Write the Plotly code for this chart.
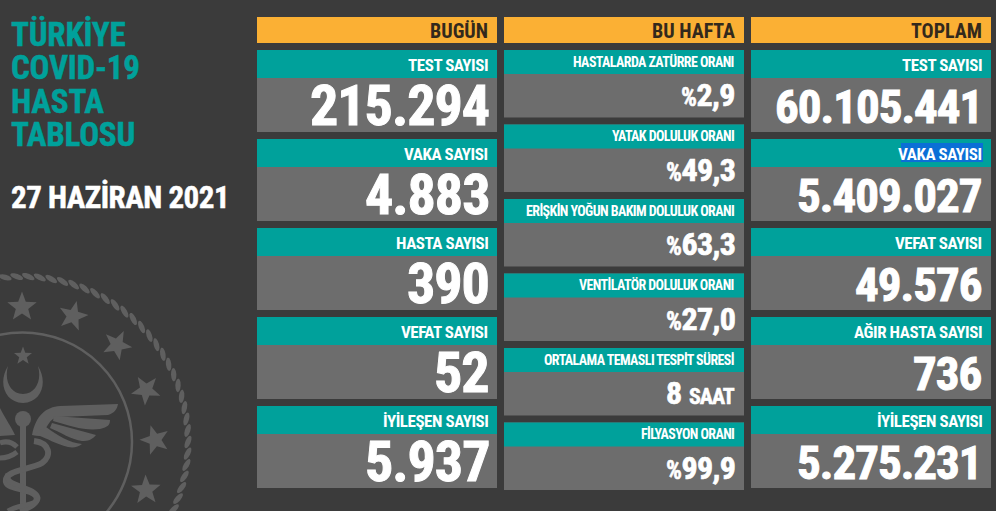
import math

import plotly.graph_objects as go

BG = "#3b3b3b"
ORANGE = "#fbb034"
TEAL = "#00a19b"
GRAY = "#6d6d6d"
SEAL = "#5f5f5f"
FONT = "Roboto Condensed"

TITLE_LINES = ["TÜRKİYE", "COVID-19", "HASTA", "TABLOSU"]
DATE_TEXT = "27 HAZİRAN 2021"

COLUMN_HEADS = ["BUGÜN", "BU HAFTA", "TOPLAM"]

TODAY_LABELS = ["TEST SAYISI", "VAKA SAYISI", "HASTA SAYISI", "VEFAT SAYISI", "İYİLEŞEN SAYISI"]
TODAY_VALUES = ["215.294", "4.883", "390", "52", "5.937"]

WEEK_LABELS = [
    "HASTALARDA ZATÜRRE ORANI",
    "YATAK DOLULUK ORANI",
    "ERİŞKİN YOĞUN BAKIM DOLULUK ORANI",
    "VENTİLATÖR DOLULUK ORANI",
    "ORTALAMA TEMASLI TESPİT SÜRESİ",
    "FİLYASYON ORANI",
]
WEEK_VALUES = ["2,9", "49,3", "63,3", "27,0", "8", "99,9"]
WEEK_PREFIX = ["%", "%", "%", "%", "", "%"]
WEEK_SUFFIX = ["", "", "", "", "SAAT", ""]

TOTAL_LABELS = ["TEST SAYISI", "VAKA SAYISI", "VEFAT SAYISI", "AĞIR HASTA SAYISI", "İYİLEŞEN SAYISI"]
TOTAL_VALUES = ["60.105.441", "5.409.027", "49.576", "736", "5.275.231"]

COL_LEFT = [257, 504, 751]
COL_WIDTH = 240
WIDE_TOPS = [50, 139, 228, 317, 406]
WEEK_TOPS = [50, 124.5, 199, 273.5, 348, 422.5]


def tight(s, spacing, stroke=0.0, color="#fff", size=None):
    style = f"letter-spacing:{spacing}px;"
    if stroke:
        style += f"stroke:{color};stroke-width:{stroke}px;"
    if size:
        style += f"font-size:{size}px;"
    return f'<span style="{style}">{s}</span>'


def text(x, y, s, size, color="white", anchor="right"):
    return dict(
        x=x, y=y, text=s, showarrow=False, xanchor=anchor, yanchor="middle",
        font=dict(family=FONT, size=size, color=color, weight=700),
        borderpad=0,
    )


def rect(x0, y0, x1, y1, color):
    return dict(type="rect", x0=x0, y0=y0, x1=x1, y1=y1, fillcolor=color, line_width=0, layer="below")


def star_path(cx, cy, r, turn=0.0):
    pts = []
    for i in range(10):
        rad = r if i % 2 == 0 else r * 0.42
        a = math.radians(-90 + i * 36 + turn)
        pts.append(f"{cx + rad * math.cos(a):.1f},{cy + rad * math.sin(a):.1f}")
    return "M" + "L".join(pts) + "Z"


def rope_path(cx, cy, r, count):
    # Small tilted ovals laid around the seal's edge
    parts = []
    for k in range(count):
        a = 2 * math.pi * k / count
        mx, my = cx + r * math.cos(a), cy + r * math.sin(a)
        tilt = a + math.pi / 2 + math.radians(22)
        pts = []
        for j in range(12):
            t = 2 * math.pi * j / 12
            u, v = 6.8 * math.cos(t), 2.7 * math.sin(t)
            pts.append(f"{mx + u * math.cos(tilt) - v * math.sin(tilt):.1f},{my + u * math.sin(tilt) + v * math.cos(tilt):.1f}")
        parts.append("M" + "L".join(pts) + "Z")
    return "".join(parts)


def seal_shapes():
    cx, cy = 22.5, 442
    shapes = [
        dict(type="path", path=rope_path(cx, cy, 165.5, 90), fillcolor=SEAL, line_width=0, layer="below"),
        dict(type="circle", x0=cx - 109.5, x1=cx + 109.5, y0=cy - 109.5, y1=cy + 109.5,
             line=dict(color=SEAL, width=2.5), layer="below"),
    ]
    stars = [(22, 307, 0), (73, 316, 14), (117, 345, 26), (146, 390, 40), (155, 440, 55), (146, 490, 70)]
    for sx, sy, turn in stars:
        shapes.append(dict(type="path", path=star_path(sx, sy, 15.5, turn), fillcolor=SEAL, line_width=0, layer="below"))
    shapes.append(dict(type="path", path=star_path(23, 356, 9.5), fillcolor=SEAL, line_width=0, layer="below"))

    # crescent
    shapes.append(dict(
        type="path",
        path="M8,366 C-2,382 4,402 23,403 C42,402 48,382 38,366 C42,380 36,394 23,394 C10,394 4,380 8,366Z",
        fillcolor=SEAL, line_width=0, layer="below",
    ))
    # staff and ball
    shapes.append(dict(type="circle", x0=15, x1=31, y0=411, y1=427, fillcolor=SEAL, line_width=0, layer="below"))
    shapes.append(dict(type="rect", x0=20, x1=26, y0=422, y1=511, fillcolor=SEAL, line_width=0, layer="below"))
    # wing feathers
    feathers = [
        "M32,435 C36,415 46,407 60,406 L118,404 C117,410 114,413 108,415 L58,417 C50,418 46,428 42,436Z",
        "M54,416 L110,420 C110,425 108,427 100,429 C85,431 70,426 53,421Z",
        "M52,423 L96,435 C92,440 88,441 82,441 C72,440 60,432 50,428Z",
        "M46,427 C58,436 70,443 82,444 C78,447 74,448 68,447 C56,444 46,438 40,436 L32,435Z",
        "M0,408 C5,418 12,428 15,435 L0,436Z",
    ]
    for p in feathers:
        shapes.append(dict(type="path", path=p, fillcolor=SEAL, line_width=0, layer="below"))
    # snakes
    snake = "M34,441 C50,443 52,456 42,463 C30,470 4,470 6,482 C8,490 30,488 36,496 C40,503 28,508 20,511"
    shapes.append(dict(type="path", path=snake, line=dict(color=SEAL, width=6), layer="below"))
    shapes.append(dict(type="path", path="M8,474 C2,486 36,486 38,498 C38,506 18,504 8,511",
                       line=dict(color=SEAL, width=5), layer="below"))
    shapes.append(dict(type="path", path="M0,443 C8,440 14,444 17,447 M0,458 C6,458 12,456 17,452",
                       line=dict(color=SEAL, width=5), layer="below"))
    return shapes


shapes = [rect(0, 0, 996, 511, BG)] + seal_shapes()
annotations = []

for i, line in enumerate(TITLE_LINES):
    annotations.append(text(10, 34 + i * 33.5, tight(line, -0.2, 0.5, TEAL), 33, TEAL, "left"))
annotations.append(text(10, 197, tight(DATE_TEXT, -0.5, 0.5), 31, "white", "left"))

for left, head in zip(COL_LEFT, COLUMN_HEADS):
    shapes.append(rect(left, 17, left + COL_WIDTH, 43, ORANGE))
    annotations.append(text(left + COL_WIDTH - 8, 30.5, head, 20, "#33291c"))

for left, labels, values, size, edge in [
    (COL_LEFT[0], TODAY_LABELS, TODAY_VALUES, 56, 7.5),
    (COL_LEFT[2], TOTAL_LABELS, TOTAL_VALUES, 47, 8.5),
]:
    for top, label, value in zip(WIDE_TOPS, labels, values):
        shapes.append(rect(left, top, left + COL_WIDTH, top + 82, GRAY))
        shapes.append(rect(left, top, left + COL_WIDTH, top + 28, TEAL))
        if left == COL_LEFT[2] and label == "VAKA SAYISI":
            shapes.append(rect(901, top + 4, 983, top + 23, "#0b6fd6"))
        annotations.append(text(left + COL_WIDTH - 8, top + 14.5, tight(label, -0.45), 17))
        annotations.append(text(left + COL_WIDTH - edge, top + 56, tight(value, -1, 1.0), size))

for top, label, value, prefix, suffix in zip(WEEK_TOPS, WEEK_LABELS, WEEK_VALUES, WEEK_PREFIX, WEEK_SUFFIX):
    left = COL_LEFT[1]
    shapes.append(rect(left, top, left + COL_WIDTH, top + 67.5, GRAY))
    shapes.append(rect(left, top, left + COL_WIDTH, top + 24, TEAL))
    annotations.append(text(left + COL_WIDTH - 9, top + 11.5, tight(label, -0.6), 14))
    shown = tight(value, -0.6, 0.7)
    if prefix:
        shown = tight(prefix, -0.5, 0.5, size=25) + shown
    if suffix:
        shown += " " + tight(suffix, -1, 0.5, size=22)
    annotations.append(text(left + COL_WIDTH - 8, top + 45, shown, 32))

fig = go.Figure()
fig.update_layout(
    width=996,
    height=511,
    margin=dict(l=0, r=0, t=0, b=0),
    paper_bgcolor=BG,
    plot_bgcolor=BG,
    xaxis=dict(range=[0, 996], visible=False, fixedrange=True),
    yaxis=dict(range=[511, 0], visible=False, fixedrange=True),
    shapes=shapes,
    annotations=annotations,
    showlegend=False,
)

fig.write_html("out.html", config=dict(displayModeBar=False),
               post_script="document.body.style.margin='0';")
